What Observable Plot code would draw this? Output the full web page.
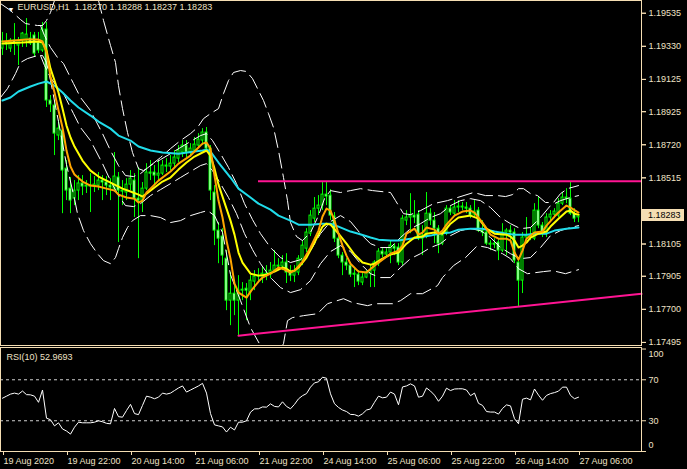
<!DOCTYPE html>
<html>
<head>
<meta charset="utf-8">
<script src="https://cdn.jsdelivr.net/npm/d3@7"></script>
<script src="https://cdn.jsdelivr.net/npm/@observablehq/plot@0.6"></script>
<style>
  html, body { margin: 0; padding: 0; background: #000; }
  #chart { position: relative; width: 687px; height: 469px; background: #000; overflow: hidden; }
  #chart svg { position: absolute; left: 0; }
</style>
</head>
<body>
<div id="chart"></div>
<script>
// EURUSD H1 candles, one per hour from 19 Aug 2020 06:00 (bar 0) to 27 Aug 2020 06:00 (bar 144)
const open = [
1.19316,1.19354,1.19316,1.19366,1.19335,1.19366,1.19366,1.19378,1.19397,1.19354,
1.19304,1.19434,1.18994,1.18963,1.18777,1.18808,1.18572,1.18448,1.18386,1.18436,
1.1848,1.18461,1.18467,1.18461,1.18467,1.18498,1.18486,1.18467,1.18448,1.18517,
1.18436,1.18424,1.18473,1.18498,1.18386,1.18374,1.18448,1.18548,1.18548,1.18529,
1.18541,1.18591,1.18585,1.18603,1.18634,1.18672,1.18715,1.18672,1.18684,1.18715,
1.18746,1.18796,1.18696,1.18424,1.18188,1.18151,1.18014,1.17754,1.17797,1.17754,
1.17816,1.17828,1.17804,1.17872,1.17903,1.17903,1.17921,1.17915,1.1794,1.17971,
1.17965,1.1799,1.17928,1.17909,1.17928,1.18002,1.18076,1.18169,1.18262,1.18324,
1.18343,1.18411,1.18405,1.18275,1.18138,1.18033,1.1799,1.17971,1.17921,1.17915,
1.17866,1.17897,1.17921,1.1794,1.17983,1.18058,1.1804,1.18052,1.18089,1.18083,
1.1799,1.1825,1.18269,1.18281,1.18287,1.18138,1.18157,1.18293,1.1825,1.182,
1.18107,1.18176,1.18324,1.18293,1.18331,1.18337,1.18331,1.18324,1.18287,1.18312,
1.18188,1.18176,1.18107,1.18107,1.18114,1.18064,1.18176,1.18188,1.18176,1.1799,
1.17878,1.18145,1.18157,1.18138,1.18312,1.18219,1.18176,1.18269,1.18287,1.18281,
1.18355,1.18393,1.18386,1.18293,1.18270];
const high = [
1.19416,1.19409,1.19378,1.19471,1.19385,1.19416,1.19502,1.19416,1.19416,1.19416,
1.19478,1.19478,1.19025,1.18994,1.1887,1.18839,1.18622,1.18517,1.18498,1.18529,
1.18529,1.18498,1.18541,1.18523,1.18548,1.18529,1.18523,1.1851,1.18672,1.18548,
1.18498,1.1851,1.1856,1.18541,1.18579,1.18486,1.18603,1.18622,1.18591,1.18622,
1.18622,1.18634,1.18653,1.18684,1.18715,1.18746,1.18746,1.18727,1.18765,1.18789,
1.1882,1.18827,1.18715,1.18467,1.18238,1.182,1.18064,1.17928,1.17878,1.17909,
1.17866,1.1786,1.17909,1.1794,1.17952,1.17965,1.17971,1.1799,1.18064,1.18014,
1.18033,1.18045,1.17971,1.17971,1.18033,1.18126,1.182,1.18312,1.18393,1.18405,
1.18486,1.18492,1.18442,1.183,1.18157,1.18052,1.18014,1.1799,1.17952,1.1794,
1.17928,1.1794,1.17971,1.18002,1.18076,1.18076,1.18076,1.18126,1.18107,1.18107,
1.18281,1.18312,1.18417,1.18374,1.18312,1.18219,1.18424,1.18324,1.183,1.18219,
1.18188,1.18343,1.18343,1.18374,1.18374,1.18362,1.18362,1.18343,1.18374,1.18331,
1.1825,1.182,1.18126,1.18138,1.18138,1.18231,1.182,1.18219,1.182,1.18014,
1.18176,1.18269,1.18207,1.18355,1.18393,1.18238,1.18293,1.18312,1.18324,1.18386,
1.18424,1.18448,1.18486,1.18324,1.18288];
const low = [
1.19273,1.19304,1.19292,1.19273,1.19211,1.19323,1.19323,1.19335,1.19261,1.19285,
1.19292,1.18951,1.1892,1.18653,1.18746,1.18293,1.18374,1.18293,1.18343,1.18374,
1.18405,1.18418,1.183,1.18424,1.18436,1.18374,1.18405,1.18374,1.18424,1.18114,
1.18343,1.18374,1.18436,1.18269,1.18014,1.183,1.18436,1.18498,1.18467,1.18498,
1.18529,1.18548,1.1856,1.18579,1.1861,1.18641,1.18641,1.18653,1.18672,1.18696,
1.18715,1.18672,1.18374,1.18095,1.17983,1.17971,1.17692,1.17599,1.17661,1.17537,
1.17754,1.1763,1.17754,1.17816,1.1786,1.1786,1.17878,1.1789,1.17928,1.1794,
1.1794,1.1786,1.17872,1.17866,1.17909,1.17971,1.18052,1.18151,1.18238,1.18281,
1.18312,1.18343,1.1825,1.18114,1.18014,1.17909,1.1794,1.17897,1.17835,1.17847,
1.17847,1.1789,1.17835,1.17835,1.17965,1.18021,1.18027,1.17983,1.18033,1.17971,
1.17971,1.18219,1.18169,1.18231,1.18126,1.18033,1.18138,1.18219,1.18107,1.18045,
1.18095,1.18157,1.18281,1.18281,1.183,1.18312,1.18293,1.18262,1.18275,1.18176,
1.18151,1.18095,1.18064,1.18076,1.18002,1.18052,1.18033,1.18126,1.17983,1.17717,
1.17798,1.18126,1.18126,1.18126,1.182,1.18145,1.18145,1.1825,1.18262,1.18269,
1.18343,1.18355,1.18281,1.18238,1.18237];
const close = [
1.1936,1.19341,1.19366,1.19347,1.19366,1.19409,1.19403,1.19347,1.19285,1.19304,
1.19434,1.18994,1.18969,1.18789,1.1882,1.1856,1.18436,1.18374,1.18436,1.1848,
1.18461,1.18467,1.18461,1.18473,1.18498,1.18486,1.18467,1.18455,1.18523,1.18436,
1.1843,1.18473,1.1851,1.18386,1.18374,1.18448,1.18548,1.18541,1.18529,1.18541,
1.18591,1.18585,1.18603,1.18641,1.18684,1.18715,1.18672,1.18696,1.18721,1.18752,
1.18796,1.18696,1.18436,1.18188,1.18138,1.18033,1.17754,1.17797,1.17754,1.17816,
1.17822,1.17816,1.17878,1.17903,1.17909,1.17921,1.17915,1.1794,1.17971,1.17965,
1.1799,1.17928,1.17909,1.1794,1.18014,1.18095,1.18176,1.18281,1.18324,1.18343,
1.18411,1.18399,1.18281,1.18138,1.18033,1.1799,1.17971,1.17915,1.17915,1.17872,
1.17897,1.17928,1.1794,1.1799,1.18058,1.1804,1.18052,1.18095,1.18076,1.1799,
1.18262,1.18269,1.18281,1.18269,1.18138,1.18157,1.18293,1.1825,1.182,1.18107,
1.18157,1.18324,1.183,1.18331,1.18337,1.18331,1.18324,1.18281,1.18306,1.18188,
1.18176,1.18107,1.18101,1.18101,1.18064,1.18176,1.18188,1.18176,1.18002,1.17878,
1.18145,1.18157,1.18145,1.18312,1.18219,1.18176,1.18269,1.18287,1.18306,1.18355,
1.18393,1.18386,1.18293,1.18262,1.18283];

// Moving averages, [bar, price]
const maFast = [[0,1.1936],[3,1.19366],[6,1.19372],[9,1.19372],[10,1.1936],[11,1.19292],[12,1.19143],[13,1.19044],[14,1.18932],[15,1.18827],[16,1.18684],[17,1.18585],[18,1.18535],[20,1.18492],[22,1.18467],[24,1.18461],[26,1.18448],[28,1.18436],[29,1.18411],[31,1.18393],[33,1.18386],[34,1.18362],[35,1.18374],[36,1.18424],[37,1.18448],[39,1.18498],[42,1.18554],[44,1.18603],[47,1.18653],[49,1.18703],[50,1.18727],[51,1.18734],[52,1.18696],[53,1.18529],[54,1.18374],[55,1.18269],[56,1.18126],[57,1.18014],[58,1.1786],[59,1.17804],[61,1.17773],[62,1.1781],[64,1.17872],[65,1.17897],[67,1.17921],[69,1.17959],[70,1.17952],[72,1.17928],[73,1.1794],[75,1.17996],[77,1.18083],[79,1.18188],[80,1.18275],[81,1.18324],[82,1.18312],[83,1.1825],[84,1.18169],[85,1.18095],[86,1.18033],[87,1.17983],[89,1.17934],[91,1.17928],[93,1.17971],[95,1.18008],[97,1.18045],[99,1.18064],[100,1.18095],[101,1.18169],[103,1.182],[104,1.18163],[105,1.18176],[106,1.18207],[108,1.18194],[109,1.18169],[110,1.18188],[111,1.18225],[113,1.18281],[115,1.18306],[117,1.18312],[118,1.183],[120,1.18238],[121,1.182],[122,1.18163],[124,1.18138],[126,1.18138],[127,1.18126],[128,1.18052],[129,1.18008],[130,1.18064],[131,1.18138],[133,1.18176],[135,1.18182],[136,1.18219],[138,1.18275],[139,1.183],[141,1.18343],[142,1.18331],[144,1.183]];
const maMid = [[0,1.19347],[5,1.19354],[9,1.1936],[10,1.19354],[11,1.19304],[12,1.19192],[13,1.19118],[14,1.19044],[15,1.18944],[16,1.18839],[17,1.18765],[18,1.18709],[20,1.18622],[22,1.1856],[24,1.18523],[26,1.18498],[28,1.18473],[30,1.18448],[32,1.1843],[34,1.18411],[35,1.18399],[36,1.18417],[38,1.18455],[40,1.18492],[42,1.18517],[44,1.18566],[46,1.1861],[48,1.18647],[50,1.18672],[51,1.18684],[52,1.18653],[53,1.18572],[54,1.18473],[55,1.18399],[56,1.18324],[57,1.1825],[58,1.18163],[59,1.18052],[60,1.1799],[62,1.17921],[64,1.17909],[66,1.17915],[68,1.17934],[70,1.17959],[71,1.17952],[72,1.17934],[73,1.1794],[74,1.17959],[76,1.18021],[78,1.18114],[80,1.18213],[81,1.18231],[82,1.18225],[84,1.18169],[86,1.18107],[88,1.1804],[90,1.1799],[92,1.17977],[93,1.17983],[95,1.18014],[97,1.1804],[99,1.18052],[101,1.18107],[103,1.18145],[105,1.18151],[106,1.18169],[108,1.18176],[110,1.18169],[112,1.18231],[114,1.18269],[117,1.18281],[119,1.18262],[120,1.18231],[121,1.182],[123,1.18169],[126,1.18163],[127,1.18151],[128,1.18126],[129,1.18083],[130,1.18095],[131,1.18114],[132,1.18145],[134,1.18169],[136,1.18182],[137,1.18213],[139,1.18262],[141,1.18306],[142,1.18312],[143,1.18293],[144,1.18287]];
const maSlow = [[0,1.18994],[2,1.19013],[4,1.1905],[7,1.19081],[9,1.19099],[11,1.19112],[13,1.19087],[15,1.19044],[17,1.18994],[19,1.18951],[22,1.18901],[24,1.18864],[27,1.1882],[29,1.18777],[32,1.18746],[34,1.18709],[37,1.18684],[40,1.18672],[44,1.18665],[48,1.18678],[50,1.18684],[51,1.1869],[52,1.18678],[54,1.1861],[57,1.18517],[59,1.18448],[62,1.18393],[64,1.18355],[67,1.18318],[69,1.18281],[72,1.1825],[74,1.18225],[77,1.18225],[80,1.18231],[82,1.18231],[84,1.18213],[87,1.18182],[89,1.18169],[92,1.18145],[94,1.18132],[97,1.18126],[99,1.18126],[102,1.18138],[104,1.18145],[107,1.18157],[109,1.18169],[112,1.18176],[114,1.18194],[117,1.182],[120,1.182],[123,1.18182],[126,1.18169],[128,1.18163],[131,1.18163],[133,1.18169],[136,1.18169],[138,1.18188],[141,1.182],[144,1.18207]];

// Bollinger bands, [bar, price]
const bbUpper = [[-0.5,1.19595],[2,1.19552],[4.5,1.19496],[5.75,1.19471],[8.75,1.19459],[10,1.19459],[11,1.1949],[12,1.1954],[13,1.19614],[14,1.19651],[15,1.19701],[17,1.198],[19.5,1.19862],[21.5,1.198],[23,1.19676],[24,1.19614],[25.25,1.1949],[27,1.19335],[28.25,1.1923],[29,1.19087],[30,1.18944],[31.25,1.18796],[32.5,1.18672],[34,1.18572],[35.25,1.1856],[37,1.18591],[39.5,1.18641],[42,1.18696],[44.5,1.18746],[47,1.18789],[48.75,1.18827],[50.25,1.18882],[52,1.18913],[54,1.18944],[55.25,1.19037],[56.5,1.19118],[57.75,1.19168],[59.5,1.1918],[61,1.19174],[62.5,1.1913],[64,1.19056],[65.25,1.18994],[66.5,1.18913],[67.75,1.18827],[69,1.18684],[70.25,1.18517],[71.25,1.18374],[72,1.18238],[73.5,1.18151],[75,1.18126],[77,1.18176],[79,1.18281],[80.5,1.18386],[82,1.18436],[84.5,1.18424],[87,1.18436],[89.5,1.18448],[92.5,1.18436],[97,1.18424],[98.25,1.18374],[100.25,1.18293],[102,1.18287],[104.5,1.18312],[107.75,1.18355],[111.25,1.18374],[113.75,1.18393],[117.75,1.18424],[120.75,1.18405],[123.75,1.18405],[125.75,1.18399],[127.5,1.18411],[129,1.18448],[130.25,1.18448],[132,1.18417],[133.75,1.18405],[135.75,1.18362],[137.75,1.18362],[139.5,1.18417],[141.25,1.18448],[144,1.18467]];
const bbLower = [[-0.5,1.19013],[1.25,1.19068],[3.25,1.19161],[4.5,1.1923],[6.25,1.19254],[8.75,1.19273],[10,1.19273],[11,1.1923],[12,1.19118],[14,1.18864],[16,1.18597],[18,1.18386],[18.75,1.18293],[20.25,1.18188],[22,1.18107],[23.75,1.18045],[25.25,1.18002],[27,1.17983],[28.25,1.18021],[29,1.18076],[30,1.18145],[31.25,1.18207],[32.5,1.1825],[34.5,1.18281],[37,1.18281],[39.5,1.18269],[42,1.18238],[44.5,1.1825],[47,1.18281],[49.5,1.183],[51.25,1.18312],[53,1.18281],[55,1.18176],[57,1.17915],[59.5,1.17754],[62,1.17587],[64.5,1.17475],[67,1.17432],[69.5,1.17456],[70.25,1.17487],[71.25,1.1763],[72.5,1.17649],[75.25,1.17661],[78.75,1.17673],[81.25,1.17735],[85.25,1.17766],[87.5,1.17742],[91.25,1.17723],[93.25,1.17735],[97.5,1.17735],[99.5,1.17754],[102,1.17797],[105,1.17797],[108.75,1.17847],[110,1.17897],[112.75,1.17971],[115.75,1.18021],[118.75,1.18095],[121.25,1.18083],[125,1.18045],[127,1.18014],[129,1.17952],[131.25,1.17921],[135.25,1.17934],[137.5,1.1794],[140.75,1.17921],[144,1.17946]];

// Envelope lines, [bar, price]
const envUpper = [[9.5,1.19459],[10.5,1.19397],[12,1.19323],[13.75,1.19261],[15.25,1.19223],[17.75,1.19099],[19.5,1.19013],[22,1.18932],[25,1.18789],[27,1.18684],[29,1.18591],[30.75,1.18529],[32.75,1.18523],[34.5,1.18541],[37,1.18591],[39.5,1.18628],[42,1.18665],[44.5,1.18703],[47,1.1874],[49.5,1.18777],[51,1.18789],[52.5,1.18746],[54.5,1.18665],[56.5,1.18579],[58.5,1.18479],[60.5,1.18355],[62.5,1.18256],[64.5,1.18169],[67,1.18083],[69.5,1.18021],[72,1.1799],[74.5,1.18008],[77,1.18064],[79.5,1.18169],[82,1.18244],[84.5,1.18281],[87,1.18244],[89.5,1.18169],[92,1.18107],[94.5,1.18083],[97,1.18083],[99.5,1.18145],[102,1.182],[104.5,1.18231],[107,1.18269],[109.5,1.18293],[112,1.18343],[114.5,1.18374],[117,1.18386],[119.5,1.18374],[122,1.18331],[124.5,1.18269],[127,1.18231],[129.5,1.182],[132,1.18207],[134.5,1.18269],[137,1.18343],[139.5,1.18374],[142,1.18393],[144,1.18405]];
const envLower = [[9.5,1.19273],[10.5,1.19211],[12,1.19137],[13.75,1.19075],[15.25,1.19037],[17.75,1.18913],[19.5,1.18827],[22,1.18746],[25,1.18603],[27,1.18498],[29,1.18405],[30.75,1.18343],[32.75,1.18337],[34.5,1.18355],[37,1.18405],[39.5,1.18442],[42,1.18479],[44.5,1.18517],[47,1.18554],[49.5,1.18591],[51,1.18603],[52.5,1.1856],[54.5,1.18479],[56.5,1.18393],[58.5,1.18293],[60.5,1.18169],[62.5,1.1807],[64.5,1.17983],[67,1.17897],[69.5,1.17835],[72,1.17804],[74.5,1.17822],[77,1.17878],[79.5,1.17983],[82,1.18058],[84.5,1.18095],[87,1.18058],[89.5,1.17983],[92,1.17921],[94.5,1.17897],[97,1.17897],[99.5,1.17959],[102,1.18014],[104.5,1.18045],[107,1.18083],[109.5,1.18107],[112,1.18157],[114.5,1.18188],[117,1.182],[119.5,1.18188],[122,1.18145],[124.5,1.18083],[127,1.18045],[129.5,1.18014],[132,1.18021],[134.5,1.18083],[137,1.18157],[139.5,1.18188],[142,1.18207],[144,1.18219]];

// RSI(10), one value per bar
const rsi = [
52,54,56,57,56,59,55.5,55.3,54,48,
60,32.5,31,25,28,22,20,17,23.7,28.6,
28,28,28,28.6,30,29,27.5,27,42,34,
33.5,40,46,37,36,45,54,53,51.5,53,
57,56,57,59.5,62,64,58,60,62,64,
66.5,57,37,26,25,24,19,23.7,21,28.6,
28.6,30,38.4,41.6,41.7,43.5,43.3,46.5,44,43.5,
48.5,44,41.7,46,51.4,54.5,56.5,62.8,67,68,
72.5,71.5,56.3,46.6,43,40.5,39,36.2,36,34.5,
36.8,40.5,41.5,48,54,52.4,53,58,56,45.6,
63,64,66,64,53,54,62,59,55,49,
54,61.8,59.5,61,61.2,61.2,60,54.5,57,47,
45,39,38.5,38.5,36.5,42,45.5,44.5,32,27.1,
51,52.1,50.4,61,55,50,54.7,56.5,57.5,58.9,
62.8,62.8,54.7,51.5,52.9693];
const rsiLevels = [30, 70];

// Drawn objects: horizontal resistance and rising support through two lows
const resistance = {fromBar: 64, price: 1.18494};
const support = [{bar: 59, price: 1.17537}, {bar: 129, price: 1.17717}];

// Axis ticks and labels
const priceTicks = [1.19535, 1.1933, 1.19125, 1.18925, 1.1872, 1.18515, 1.1831, 1.18105, 1.17905, 1.177, 1.17495];
const timeTickBars = [0, 16, 32, 48, 64, 80, 96, 112, 128, 144];
const timeLabels = ["19 Aug 2020", "19 Aug 22:00", "20 Aug 14:00", "21 Aug 06:00", "21 Aug 22:00",
                    "24 Aug 14:00", "25 Aug 06:00", "25 Aug 22:00", "26 Aug 14:00", "27 Aug 06:00"];

const FONT = '"Liberation Sans", Arial, "DejaVu Sans", sans-serif';
const TXT = "#efe2c6";
const BORDER = "#f5deb3";
const LIME = "#00ff00";
const PINK = "#ff1493";
const xDomain = [-0.5, 159.75];
const yDomain = [1.17476, 1.19614];

const last = open.length - 1;
const bars = open.map((o, i) => ({i, o, h: high[i], l: low[i], c: close[i]}));
const xy = {x: d => d[0], y: d => d[1]};

// support ray extended to the right edge
const slope = (support[1].price - support[0].price) / (support[1].bar - support[0].bar);
const supportRay = [support[0], {bar: xDomain[1], price: support[0].price + slope * (xDomain[1] - support[0].bar)}];

// price scale labels; the one under the current-price box is left unlabelled
const pxPerUnit = 345 / (yDomain[1] - yDomain[0]);
const labelledTicks = priceTicks.filter(t => Math.abs(t - close[last]) * pxPerUnit > 8);

function priceBox(index, scales, values, dims) {
  const y = Math.round(scales.y(close[last]));
  const x0 = dims.width - dims.marginRight + 1;
  const g = d3.create("svg:g");
  g.append("rect").attr("x", x0).attr("y", y - 6).attr("width", 42).attr("height", 12).attr("fill", BORDER);
  g.append("text").attr("x", x0 + 6).attr("y", y).attr("dy", "0.35em")
    .attr("text-anchor", "start").attr("fill", "#000")
    .attr("font-size", 9).attr("font-family", FONT)
    .text(close[last].toFixed(5));
  return g.node();
}

const title = `EURUSD,H1\u00a0\u00a0${open[last].toFixed(5)} ${high[last].toFixed(5)} ${low[last].toFixed(5)} ${close[last].toFixed(5)}`;
const dash = {stroke: "#ffffff", strokeWidth: 1, strokeDasharray: "15,6", clip: true};

const main = Plot.plot({
  width: 687, height: 347,
  marginLeft: 0, marginRight: 46, marginTop: 0, marginBottom: 2,
  x: {domain: xDomain, axis: null},
  y: {domain: yDomain, axis: null},
  style: {background: "transparent", color: TXT, fontFamily: FONT, fontSize: "9px"},
  marks: [
    Plot.ruleX(bars, {x: "i", y1: "l", y2: "h", stroke: LIME}),
    Plot.rect(bars, {
      x1: d => d.i - 0.25, x2: d => d.i + 0.25,
      y1: d => Math.min(d.o, d.c), y2: d => Math.max(d.o, d.c),
      fill: d => d.c < d.o ? "#ffffff" : "#000000", stroke: LIME
    }),
    Plot.line(bbUpper, {...xy, ...dash}),
    Plot.line(bbLower, {...xy, ...dash}),
    Plot.line(envUpper, {...xy, ...dash}),
    Plot.line(envLower, {...xy, ...dash}),
    Plot.line(maSlow, {...xy, stroke: "#20dcea", strokeWidth: 2}),
    Plot.line(maMid, {...xy, stroke: "#ffff00", strokeWidth: 2}),
    Plot.line(maFast, {...xy, stroke: "#ffa500", strokeWidth: 2}),
    Plot.ruleY([resistance], {y: "price", x1: "fromBar", x2: xDomain[1], stroke: PINK, strokeWidth: 2}),
    Plot.line(supportRay, {x: "bar", y: "price", stroke: PINK, strokeWidth: 2}),
    Plot.frame({stroke: BORDER}),
    Plot.axisY({anchor: "right", ticks: priceTicks, tickFormat: () => "", tickSize: 4, stroke: BORDER}),
    Plot.axisY({anchor: "right", ticks: labelledTicks, tickFormat: d => d.toFixed(5),
                tickSize: 4, tickPadding: 3, stroke: BORDER, fill: TXT}),
    priceBox,
    Plot.text(["\u25BC"], {frameAnchor: "top-left", text: d => d, dx: 7, dy: 7, fontSize: 7, fill: "#ffffff"}),
    Plot.text([title], {frameAnchor: "top-left", text: d => d, dx: 17, dy: 3, lineAnchor: "top", textAnchor: "start", fill: TXT})
  ]
});

const rsiPlot = Plot.plot({
  width: 687, height: 122,
  marginLeft: 0, marginRight: 46, marginTop: 0, marginBottom: 18,
  x: {domain: xDomain, axis: null},
  y: {domain: [0, 101.5], axis: null},
  style: {background: "transparent", color: TXT, fontFamily: FONT, fontSize: "9px"},
  marks: [
    Plot.ruleY(rsiLevels, {stroke: "#cfcfcf", strokeDasharray: "3,3"}),
    Plot.line(rsi.map((v, i) => [i, v]), {...xy, stroke: "#ffffff", strokeWidth: 1}),
    Plot.frame({stroke: BORDER}),
    Plot.axisY({anchor: "right", ticks: rsiLevels, tickSize: 4, tickPadding: 3, stroke: BORDER, fill: TXT}),
    Plot.axisY({anchor: "right", ticks: [0, 100], tickSize: 4, tickFormat: () => "", stroke: BORDER}),
    Plot.text([100], {y: d => d, text: d => String(d), frameAnchor: "right", dx: 7, dy: 5.5, textAnchor: "start", fill: TXT}),
    Plot.text([0], {y: d => d, text: d => String(d), frameAnchor: "right", dx: 7, dy: -6.5, textAnchor: "start", fill: TXT}),
    Plot.text([`RSI(10) ${rsi[last].toFixed(4)}`], {frameAnchor: "top-left", text: d => d, dx: 6, dy: 6, lineAnchor: "top", textAnchor: "start", fill: TXT}),
    Plot.axisX({anchor: "bottom", ticks: timeTickBars, tickFormat: d => timeLabels[timeTickBars.indexOf(d)],
                tickSize: 4, tickPadding: 2, textAnchor: "start", dx: 1, stroke: BORDER, fill: TXT})
  ]
});

const root = document.getElementById("chart");
main.style.top = "0px";
rsiPlot.style.top = "347px";
root.append(main, rsiPlot);
</script>
</body>
</html>
